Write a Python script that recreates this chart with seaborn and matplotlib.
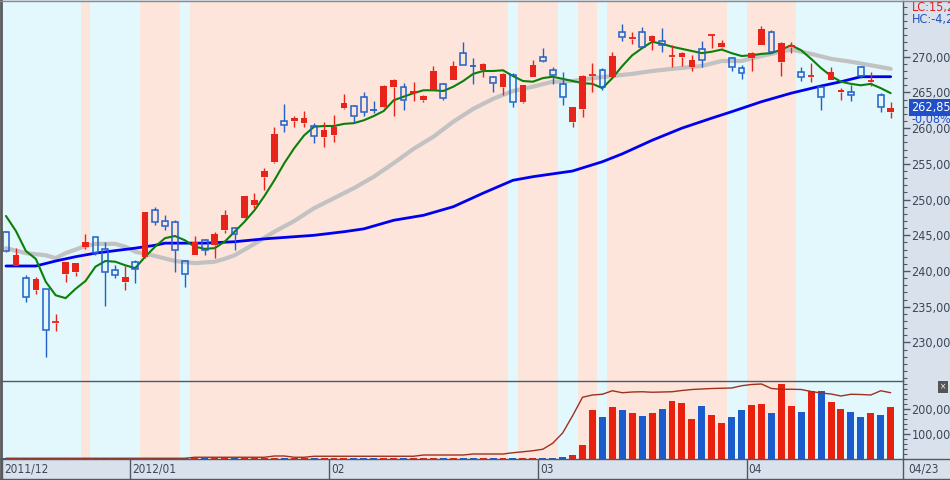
import numpy as np
import pandas as pd
import matplotlib
matplotlib.use("Agg")
import matplotlib.pyplot as plt
import matplotlib.transforms as mtransforms
from matplotlib.ticker import MultipleLocator, FixedLocator
import seaborn as sns

# daily candles, 2011/12 .. 2012/04/23
opens = [245.5, 240.7, 239.0, 237.3, 237.5, 232.75, 239.6, 239.9, 243.3, 244.7,
         243.1, 240.2, 238.5, 241.3, 241.9, 248.6, 247.0, 246.8, 241.4, 242.3,
         244.3, 243.7, 245.8, 246.0, 247.4, 249.2, 253.2, 255.2, 261.0, 261.0,
         260.7, 260.3, 258.7, 259.0, 262.8, 263.1, 264.3, 262.55, 262.9, 265.7,
         265.8, 264.9, 263.9, 265.4, 266.2, 266.8, 270.5, 268.75, 268.1, 267.1,
         265.8, 267.5, 263.6, 267.2, 269.9, 268.2, 266.2, 260.8, 262.7, 267.3,
         268.2, 267.2, 273.4, 272.55, 273.5, 272.2, 272.2, 270.0, 269.9, 268.6,
         271.1, 273.0, 271.4, 269.8, 268.4, 269.8, 271.7, 273.5, 269.3, 271.4,
         267.9, 267.2, 265.7, 266.8, 265.1, 265.1, 268.6, 266.5, 264.7, 262.3]
highs = [245.6, 243.2, 239.4, 239.2, 237.5, 234.0, 241.3, 241.1, 245.2, 244.8,
         244.1, 240.9, 240.7, 241.5, 248.3, 248.9, 247.9, 247.1, 241.5, 244.9,
         244.5, 245.4, 248.5, 246.1, 250.5, 250.9, 254.4, 260.2, 263.4, 261.7,
         262.4, 260.7, 260.9, 261.8, 264.8, 263.3, 265.0, 263.8, 266.0, 266.9,
         266.3, 266.4, 264.6, 268.7, 266.3, 269.4, 272.0, 269.8, 269.1, 267.3,
         267.7, 267.7, 266.1, 269.6, 271.2, 268.6, 267.9, 263.0, 267.4, 269.1,
         268.4, 270.6, 274.6, 273.5, 274.2, 273.0, 274.0, 271.6, 270.7, 270.2,
         272.2, 273.2, 272.3, 269.9, 268.8, 270.6, 274.3, 273.7, 272.0, 272.0,
         268.6, 269.1, 265.8, 268.5, 265.6, 266.0, 268.7, 267.8, 264.9, 263.6]
lows = [242.7, 240.7, 235.7, 236.8, 227.9, 231.6, 238.4, 239.3, 243.1, 242.3,
        235.1, 239.0, 237.4, 238.3, 241.8, 246.5, 245.8, 239.8, 237.8, 242.3,
        242.2, 241.8, 245.3, 242.9, 247.3, 248.8, 251.4, 255.1, 259.5, 260.1,
        260.2, 257.9, 257.4, 258.0, 262.7, 260.7, 261.7, 262.1, 262.8, 261.7,
        262.5, 263.8, 263.6, 265.4, 264.0, 266.8, 268.9, 266.2, 267.2, 265.1,
        264.7, 263.0, 263.5, 267.1, 269.2, 266.2, 263.3, 260.2, 261.6, 265.1,
        265.4, 267.1, 272.2, 271.8, 271.2, 271.0, 270.7, 268.5, 268.7, 268.0,
        268.6, 271.2, 271.2, 268.0, 266.9, 268.0, 271.6, 270.5, 267.3, 270.5,
        266.6, 266.4, 262.6, 266.8, 264.0, 263.8, 267.0, 265.9, 262.3, 261.4]
closes = [242.8, 242.3, 236.3, 238.9, 231.8, 232.85, 241.3, 241.1, 244.1, 242.5,
          239.8, 239.4, 239.1, 240.3, 248.3, 246.9, 246.3, 242.9, 239.6, 244.1,
          243.0, 245.2, 247.8, 245.2, 250.5, 249.9, 254.0, 259.2, 260.4, 261.4,
          261.4, 258.9, 259.8, 260.1, 263.5, 261.7, 262.2, 262.5, 265.9, 266.8,
          264.0, 265.2, 264.5, 268.0, 264.2, 268.7, 268.9, 268.7, 269.0, 266.3,
          267.6, 263.6, 266.0, 268.8, 269.4, 267.4, 264.3, 262.9, 267.3, 267.4,
          265.8, 270.1, 272.7, 272.6, 271.3, 272.9, 271.7, 270.1, 270.5, 269.6,
          269.6, 273.05, 271.9, 268.6, 267.7, 270.5, 273.9, 270.7, 271.9, 271.5,
          267.1, 267.3, 264.4, 267.9, 265.4, 264.6, 267.3, 266.55, 262.9, 262.85]
volumes = [4500, 4500, 4000, 4500, 4500, 4000, 4500, 4500, 4500, 4000,
           4500, 4500, 4000, 4500, 5000, 4500, 4500, 4500, 4000, 4500,
           4500, 4500, 4500, 4000, 4500, 4500, 4500, 4500, 4500, 4500,
           4500, 4000, 4500, 4500, 4500, 4000, 4500, 4500, 4500, 4500,
           4500, 4500, 4500, 4500, 4000, 4500, 4500, 4500, 4500, 4000,
           4500, 4500, 4500, 4500, 4500, 5000, 9000, 17000, 56000, 196000,
           168000, 208000, 196000, 184000, 172000, 184000, 200000, 232000, 224000, 160000,
           212000, 176000, 144000, 168000, 196000, 216000, 220000, 184000, 300000, 212000,
           188000, 272000, 272000, 228000, 200000, 188000, 168000, 184000, 176000, 208000]

ma_short = [247.7, 245.6, 242.8, 241.7, 238.5, 236.6, 236.2, 237.5, 238.6, 240.6,
            241.4, 241.3, 240.8, 240.4, 242.0, 243.4, 244.6, 244.9, 244.3, 243.4,
            243.1, 243.2, 244.1, 245.5, 246.9, 248.5, 250.5, 252.7, 255.1, 257.2,
            259.0, 260.2, 260.3, 260.3, 260.6, 260.7, 261.1, 261.7, 262.4, 263.9,
            264.4, 264.9, 265.3, 265.3, 265.2, 265.8, 266.6, 267.6, 268.0, 268.0,
            268.1, 267.3, 266.6, 266.5, 267.0, 267.2, 266.9, 266.6, 266.3, 266.2,
            265.6, 267.0, 268.7, 270.2, 271.2, 272.1, 271.8, 271.4, 271.1, 270.8,
            270.5, 270.7, 271.0, 270.5, 270.1, 270.2, 270.4, 270.5, 271.0, 271.6,
            270.9, 269.7, 268.4, 267.3, 266.5, 266.2, 266.0, 266.2, 265.6, 264.9]
ma_mid_day = [0, 2, 4, 5, 6, 8, 9, 11, 12, 13, 15, 17, 19, 21, 22, 23, 25, 27, 29, 31,
              33, 35, 37, 39, 41, 43, 45, 47, 49, 51, 53, 55, 57, 59, 61, 63, 65, 67,
              70, 72, 74, 76, 78, 79, 81, 83, 85, 87, 89]
ma_mid = [243.2, 242.5, 242.2, 241.8, 242.5, 243.5, 243.8, 243.8, 243.4, 242.7,
          242.1, 241.4, 241.1, 241.3, 241.7, 242.2, 243.8, 245.5, 247.0, 248.8,
          250.2, 251.6, 253.2, 255.1, 257.1, 258.8, 260.9, 262.7, 264.1, 265.2,
          265.8, 266.5, 266.6, 267.0, 267.3, 267.6, 268.0, 268.3, 268.7, 269.4,
          269.4, 270.1, 270.7, 271.0, 270.4, 269.7, 269.3, 268.8, 268.3]
ma_long_day = [0, 3, 5, 7, 9, 13, 15, 16, 20, 23, 26, 31, 34, 36, 39, 42, 45, 48, 51,
               53, 57, 60, 62, 65, 68, 71, 73, 76, 79, 82, 84, 86, 89]
ma_long = [240.7, 240.7, 241.4, 242.0, 242.5, 243.2, 243.6, 243.9, 243.9, 244.1,
           244.5, 245.0, 245.5, 245.9, 247.1, 247.8, 249.0, 250.9, 252.7, 253.2,
           254.0, 255.3, 256.4, 258.3, 260.0, 261.4, 262.3, 263.7, 264.9, 265.9,
           266.5, 267.2, 267.2]
vol_line = [3000] * 19 + [7000] * 8 + [12000] * 2 + [7000] * 2 + [11000] * 11 + \
           [16000] * 5 + [20000] * 4 + \
           [25000, 29000, 33000, 39000, 63000, 104000, 173000, 247000, 256000,
            259000, 273000, 265000, 268000, 269000, 267000, 268000, 269000, 274000,
            278000, 280000, 282000, 283000, 284000, 293000, 298000, 300000, 282000,
            279000, 279000, 278000, 270000, 264000, 260000, 252000, 259000, 258000,
            256000, 273000, 265000]

# signal zones (first day of each zone), alternating buy / sell
zone_start = [0, 8, 9, 14, 18, 19, 51, 52, 56, 58, 60, 61, 73, 75, 80, 90]
month_labels = ["2011/12", "2012/01", "02", "03", "04"]
month_start = [0, 13, 33, 54, 75]
last_label = "04/23"

RED, BLUE = "#e8231a", "#2060c8"
VRED, VBLUE = "#e8200e", "#1a5ccc"
CYAN, SALMON = "#e2f8fc", "#fde5db"
PANEL = "#d9e2ec"
TXT = "#3c4658"
LINE = "#4e5866"

sns.set_style("white")
plt.rcParams["font.family"] = ["DejaVu Sans"]
plt.rcParams["font.stretch"] = "condensed"
FS = 8.5

W, H = 950, 480
fig = plt.figure(figsize=(W / 100, H / 100), dpi=100, facecolor=PANEL)


def rect(x0, y0, x1, y1):
    return [x0 / W, 1 - y1 / H, (x1 - x0) / W, (y1 - y0) / H]


ax = fig.add_axes(rect(2, 1, 903, 381))
axv = fig.add_axes(rect(2, 381, 903, 459), sharex=ax)

o, h, l, c = map(np.array, (opens, highs, lows, closes))
x = np.arange(len(o))
up = c >= o
doji = np.abs(c - o) < 0.2
XMIN, XMAX = -0.4, 90.24

for a in (ax, axv):
    for k in range(len(zone_start) - 1):
        end = zone_start[k + 1] - 0.5 if k < len(zone_start) - 2 else XMAX + 1
        a.axvspan(zone_start[k] - 0.5, end, color=CYAN if k % 2 == 0 else SALMON,
                  lw=0, zorder=0)

# moving averages
sns.lineplot(x=ma_mid_day, y=ma_mid, ax=ax, color="#c2c2c2", lw=3.0, zorder=2,
             estimator=None, sort=False)
sns.lineplot(x=ma_long_day, y=ma_long, ax=ax, color="#0000f0", lw=2.0, zorder=2,
             estimator=None, sort=False)
sns.lineplot(x=x, y=ma_short, ax=ax, color="#0a800a", lw=1.5, zorder=2,
             estimator=None, sort=False)

# candles
cols = np.where(up, RED, BLUE)
ax.vlines(x, l, np.minimum(o, c), colors=cols, lw=1.0, zorder=4)
ax.vlines(x, np.maximum(o, c), h, colors=cols, lw=1.0, zorder=4)
m = up & ~doji
ax.bar(x[m], (c - o)[m], bottom=o[m], width=0.66, color=RED, lw=0, zorder=5)
m = ~up & ~doji
ax.bar(x[m], (o - c)[m], bottom=c[m], width=0.58, facecolor="none",
       edgecolor=BLUE, lw=1.1, zorder=5)
ax.hlines(c[doji], x[doji] - 0.33, x[doji] + 0.33, colors=cols[doji], lw=1.3, zorder=5)

# volume
vdf = pd.DataFrame({"day": x, "vol": volumes, "dir": np.where(up, "up", "down")})
sns.barplot(data=vdf, x="day", y="vol", hue="dir", palette={"up": VRED, "down": VBLUE},
            native_scale=True, width=0.7, dodge=False, saturation=1, errorbar=None,
            legend=False, ax=axv, zorder=3, linewidth=0)
sns.lineplot(x=x, y=vol_line, ax=axv, color="#a0301e", lw=1.0, zorder=4,
             estimator=None, sort=False)

ax.set_xlim(XMIN, XMAX)
ax.set_ylim(224.6, 277.8)
axv.set_ylim(0, 312000)

for a in (ax, axv):
    a.set_xlabel("")
    a.set_ylabel("")
    a.yaxis.tick_right()
    a.tick_params(axis="x", bottom=False, labelbottom=False)
    a.tick_params(axis="y", which="major", direction="out", length=5, width=1,
                  color=LINE, labelcolor=TXT, labelsize=FS + 0.5, pad=1)
    a.tick_params(axis="y", which="minor", direction="out", length=3, width=0.8,
                  color=LINE)
    for s in ("left", "top", "bottom"):
        a.spines[s].set_visible(False)
    a.spines["right"].set_color(LINE)
    a.spines["right"].set_linewidth(1)

pt = np.arange(230, 271, 5)
ax.yaxis.set_major_locator(FixedLocator(pt))
ax.set_yticklabels([f"{v:.2f}".replace(".", ",") for v in pt])
ax.yaxis.set_minor_locator(MultipleLocator(1))
vt = [100000, 200000]
axv.yaxis.set_major_locator(FixedLocator(vt))
axv.set_yticklabels([f"{v:,}" for v in vt])
axv.yaxis.set_minor_locator(MultipleLocator(20000))

# last price box and header text
tr = mtransforms.blended_transform_factory(ax.transAxes, ax.transData)
ax.text(1.0 + 8 / 901, c[-1], f"{c[-1]:.2f}".replace(".", ","), transform=tr,
        color="white", fontsize=FS + 0.5, va="center", ha="left", zorder=10,
        clip_on=False,
        bbox=dict(boxstyle="square,pad=0.15", facecolor="#1f50c8", edgecolor="none"))
ax.text(1.0 + 9 / 901, c[-1] - 1.6, "-0,08%", transform=tr, color="#2050d0",
        fontsize=FS + 0.5, va="center", ha="left", zorder=10, clip_on=False)
fig.text(912 / W, 1 - 8 / H, "LC:15,23", color="#e0201a", fontsize=FS + 0.5,
         va="center")
fig.text(912 / W, 1 - 19 / H, "HC:-4,28", color="#2050c0", fontsize=FS + 0.5,
         va="center")
fig.text(943 / W, 1 - 387 / H, "×", color="white", fontsize=6, ha="center",
         va="center",
         bbox=dict(boxstyle="square,pad=0.2", facecolor="#555555", edgecolor="none"))

# panel separator and date band
fig.add_artist(plt.Line2D([2 / W, 903 / W], [1 - 381 / H] * 2, color=LINE, lw=1))
fig.add_artist(plt.Line2D([0, 1], [1 - 459 / H] * 2, color=LINE, lw=1))
fig.add_artist(plt.Line2D([0, 1], [1 - 479 / H] * 2, color=LINE, lw=1))
to_fig = ax.transData + fig.transFigure.inverted()
for lab, d in zip(month_labels, month_start):
    xf = max(to_fig.transform((d - 0.5, 0))[0], 2 / W)
    fig.add_artist(plt.Line2D([xf, xf], [1 - 479 / H, 1 - 459 / H], color=LINE, lw=1))
    fig.text(xf + 2 / W, 1 - 469.5 / H, lab, color=TXT, fontsize=FS, va="center")
fig.add_artist(plt.Line2D([903 / W] * 2, [1 - 479 / H, 1 - 459 / H], color=LINE, lw=1))
fig.text(908 / W, 1 - 469.5 / H, last_label, color=TXT, fontsize=FS, va="center")

# outer frame
fig.add_artist(plt.Line2D([1 / W] * 2, [0, 1], color="#5a5a5a", lw=2))
fig.add_artist(plt.Line2D([0, 1], [1 - 0.5 / H] * 2, color="#8a8a8a", lw=1))

fig.savefig("out.png", dpi=100, facecolor=PANEL)
